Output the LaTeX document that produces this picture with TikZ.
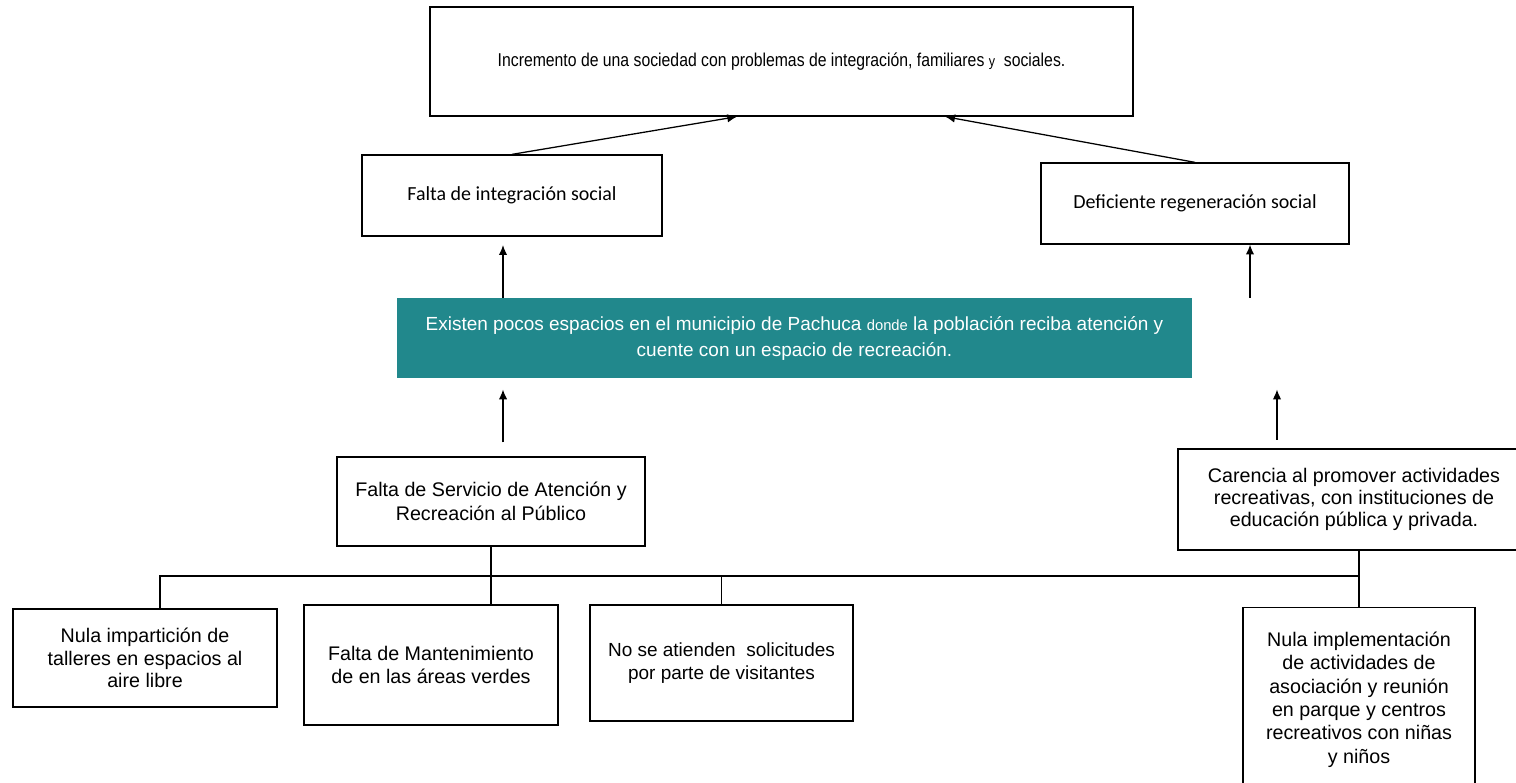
\documentclass[tikz,border=0pt]{standalone}
\usepackage{fontspec}
\setmainfont{Liberation Sans}
\newfontfamily\narrowfont[FakeStretch=0.85]{Liberation Sans}
\newfontfamily\calfont{Carlito}
\usetikzlibrary{arrows.meta}
\definecolor{tealbox}{RGB}{33,136,140}

\begin{document}
\begin{tikzpicture}[x=0.025cm, y=-0.025cm,
    box/.style={draw, line width=0.9pt, align=center, inner sep=2pt, font=\fontsize{14}{16.5}\selectfont},
    calbox/.style={box, font=\calfont\fontsize{14.2}{17}\selectfont},
    arr/.style={line width=0.9pt, -{Latex[length=7pt,width=6pt]}},
    link/.style={line width=0.9pt}]
  \useasboundingbox (0,0) rectangle (1516,782);
  % efectos
  \node [box, minimum width=17.575cm, minimum height=2.725cm, font=\narrowfont\fontsize{13.2}{16}\selectfont] (efecto) at (781.5,61.5)
    {Incremento de una sociedad con problemas de integración, familiares {\fontsize{10.5}{13}\selectfont y}\ \ sociales.};
  \node [calbox, minimum width=7.5cm, minimum height=2.025cm] (integ) at (512,195.5)
    {Falta de integración social};
  \node [calbox, minimum width=7.7cm, minimum height=2.025cm] (defic) at (1195,203.5)
    {Deficiente regeneración social};
  % problema central
  \node [fill=tealbox, text=white, align=center, minimum width=19.875cm, minimum height=2cm, font=\fontsize{13.5}{18.5}\selectfont] (problema) at (794.5,338)
    {Existen pocos espacios en el municipio de Pachuca {\fontsize{10.5}{13}\selectfont donde} la población reciba atención y\\ cuente con un espacio de recreación.};
  % causas
  \node [box, minimum width=7.7cm, minimum height=2.225cm, font=\fontsize{14}{17.5}\selectfont] (servicio) at (491,501.5)
    {Falta de Servicio de Atención y\\ Recreación al Público};
  \node [box, minimum width=8.8cm, minimum height=2.525cm, font=\fontsize{14}{15.5}\selectfont] (carencia) at (1354,499.5)
    {Carencia al promover actividades\\ recreativas, con instituciones de\\ educación pública y privada.};
  \node [box, minimum width=6.6cm, minimum height=2.45cm, font=\fontsize{14}{16}\selectfont] (talleres) at (145,658)
    {Nula impartición de\\ talleres en espacios al\\ aire libre};
  \node [box, minimum width=6.35cm, minimum height=3cm] (mant) at (431,665)
    {Falta de Mantenimiento\\ de en las áreas verdes};
  \node [box, minimum width=6.575cm, minimum height=2.9cm, font=\fontsize{13.5}{16.5}\selectfont] (solic) at (721.5,663)
    {No se atienden\ \ solicitudes\\ por parte de visitantes};
  \node [box, anchor=north, minimum width=5.8cm, minimum height=4.6cm, inner ysep=11pt, font=\fontsize{14}{16.6}\selectfont] (nula) at (1359,607)
    {Nula implementación\\ de actividades de\\ asociación y reunión\\ en parque y centros\\ recreativos con niñas\\ y niños};
  % flechas
  \draw [arr] (integ.north) -- ([xshift=-1.11cm]efecto.south);
  \draw [arr] (defic.north) -- ([xshift=4.09cm]efecto.south);
  \draw [arr, shorten >=6pt] ([xshift=-0.225cm]integ.south |- problema.north) -- ([xshift=-0.225cm]integ.south);
  \draw [arr] ([xshift=1.375cm]defic.south |- problema.north) -- ([xshift=1.375cm]defic.south);
  \draw [arr, shorten <=10pt, shorten >=8pt] ([xshift=0.3cm]servicio.north) -- ([xshift=0.3cm]servicio.north |- problema.south);
  \draw [arr, shorten <=6pt, shorten >=8pt] ([xshift=-1.925cm]carencia.north) -- ([xshift=-1.925cm]carencia.north |- problema.south);
  % ramas
  \coordinate (bus) at (0,576);
  \draw [link] ([xshift=0.375cm]talleres.north) |- (nula.north |- bus);
  \draw [link] (servicio.south) -- (servicio.south |- mant.north);
  \draw [link] (solic.north) -- (solic.north |- bus);
  \draw [link] (nula.north |- carencia.south) -- (nula.north);
\end{tikzpicture}
\end{document}
